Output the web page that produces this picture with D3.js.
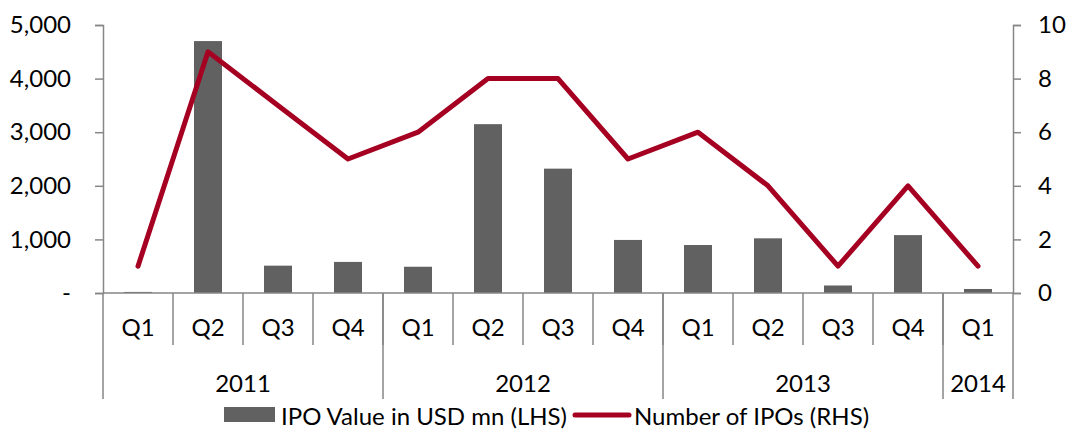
<!DOCTYPE html>
<html><head><meta charset="utf-8">
<script src="https://cdn.jsdelivr.net/npm/d3@7"></script>
<style>
html,body{margin:0;padding:0;background:#fff;}
text{font-family:Lato,"Open Sans",sans-serif;fill:#000;}
</style></head>
<body><svg id="c" width="1080" height="430"></svg>
<script>
const quarters = ["Q1","Q2","Q3","Q4","Q1","Q2","Q3","Q4","Q1","Q2","Q3","Q4","Q1"];
const years = [{label:"2011", n:4},{label:"2012", n:4},{label:"2013", n:4},{label:"2014", n:1}];
const ipoValue = [20, 4700, 510, 580, 490, 3150, 2320, 990, 895, 1020, 140, 1080, 75];
const ipoCount = [1, 9, 7, 5, 6, 8, 8, 5, 6, 4, 1, 4, 1];
const leftTicks = [0, 1000, 2000, 3000, 4000, 5000];
const rightTicks = [0, 2, 4, 6, 8, 10];
const seriesNames = ["IPO Value in USD mn (LHS)", "Number of IPOs (RHS)"];

const svg = d3.select("#c");
const L = 103, R = 1013, T = 25, B = 293;
const axisColor = "#868686", barColor = "#616161", lineColor = "#A50021";
const fs = 24;

const idx = quarters.map((d,i)=>i);
const x = d3.scaleBand().domain(idx).range([L, R]).paddingInner(0.6).paddingOuter(0.3);
const xo = d3.scaleBand().domain(idx).range([L, R]);
const yL = d3.scaleLinear().domain([0, 5000]).range([B, T]);
const yR = d3.scaleLinear().domain([0, 10]).range([B, T]);

// bars
svg.append("g").selectAll("rect").data(ipoValue).join("rect")
  .attr("x",(d,i)=>x(i)).attr("width",x.bandwidth())
  .attr("y",d=>yL(d)).attr("height",d=>B-yL(d)).attr("fill",barColor);

// left axis
const ga = svg.append("g").attr("transform",`translate(${L},0)`)
  .call(d3.axisLeft(yL).tickValues(leftTicks).tickSize(8).tickPadding(24)
    .tickFormat(d=> d===0 ? "-" : d3.format(",")(d)));
ga.select(".domain").attr("stroke",axisColor).attr("stroke-width",1.5);
ga.selectAll(".tick line").attr("stroke",axisColor).attr("stroke-width",1.5);
ga.selectAll("text").style("font-size",fs+"px").attr("font-family",null);

// right axis
const gr = svg.append("g").attr("transform",`translate(${R},0)`)
  .call(d3.axisRight(yR).tickValues(rightTicks).tickSize(8).tickPadding(17));
gr.select(".domain").attr("stroke",axisColor).attr("stroke-width",1.5);
gr.selectAll(".tick line").attr("stroke",axisColor).attr("stroke-width",1.5);
gr.selectAll("text").style("font-size",fs+"px").attr("font-family",null);

// x axis baseline
svg.append("line").attr("x1",L).attr("x2",R).attr("y1",B).attr("y2",B)
  .attr("stroke",axisColor).attr("stroke-width",1.5);

// quarter separators and labels
const gx = svg.append("g");
idx.forEach(i=>{
  if(i>0) gx.append("line").attr("x1",xo(i)).attr("x2",xo(i)).attr("y1",B).attr("y2",345)
    .attr("stroke",axisColor).attr("stroke-width",1.5);
  gx.append("text").attr("x",xo(i)+xo.bandwidth()/2).attr("y",326)
    .attr("text-anchor","middle").attr("dominant-baseline","central")
    .style("font-size",fs+"px").text(quarters[i]);
});
// year separators and labels
let start = 0;
const bounds = [0];
years.forEach(y=>{
  const a = xo(start), b = start+y.n < quarters.length ? xo(start+y.n) : R;
  gx.append("text").attr("x",(a+b)/2).attr("y",382)
    .attr("text-anchor","middle").attr("dominant-baseline","central")
    .style("font-size",fs+"px").text(y.label);
  start += y.n;
  bounds.push(start);
});
bounds.forEach(k=>{
  const px = k < quarters.length ? xo(k) : R;
  gx.append("line").attr("x1",px).attr("x2",px).attr("y1",B).attr("y2",399)
    .attr("stroke",axisColor).attr("stroke-width",1.5);
});

// line
svg.append("path").datum(ipoCount)
  .attr("d", d3.line().x((d,i)=>xo(i)+xo.bandwidth()/2).y(d=>yR(d)))
  .attr("fill","none").attr("stroke",lineColor).attr("stroke-width",5)
  .attr("stroke-linejoin","round").attr("stroke-linecap","round");

// legend
const lg = svg.append("g");
lg.append("rect").attr("x",224).attr("y",407).attr("width",51).attr("height",15).attr("fill",barColor);
lg.append("text").attr("x",281).attr("y",415).attr("dominant-baseline","central")
  .style("font-size",fs+"px").text(seriesNames[0]);
lg.append("line").attr("x1",575).attr("x2",629).attr("y1",415).attr("y2",415)
  .attr("stroke",lineColor).attr("stroke-width",5).attr("stroke-linecap","round");
lg.append("text").attr("x",634).attr("y",415).attr("dominant-baseline","central")
  .style("font-size",fs+"px").text(seriesNames[1]);
</script></body></html>
